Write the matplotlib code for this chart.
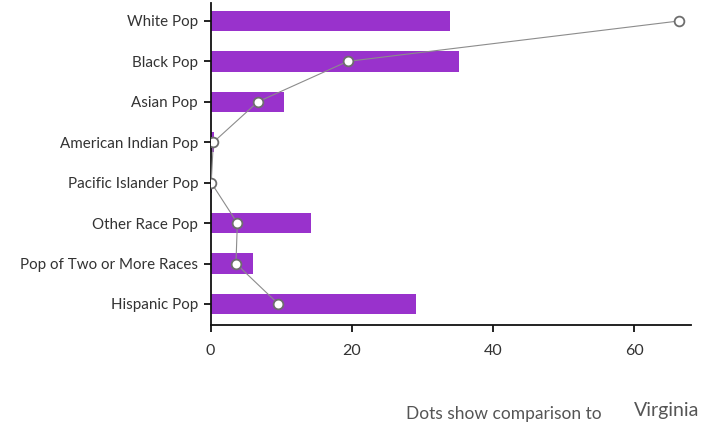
import matplotlib.pyplot as plt

categories = [
    "White Pop",
    "Black Pop",
    "Asian Pop",
    "American Indian Pop",
    "Pacific Islander Pop",
    "Other Race Pop",
    "Pop of Two or More Races",
    "Hispanic Pop",
]
bar_values = [33.9, 35.1, 10.4, 0.5, 0.2, 14.2, 6.0, 29.1]
dot_values = [66.3, 19.4, 6.7, 0.4, 0.1, 3.8, 3.6, 9.6]
x_ticks = [0, 20, 40, 60]
comparison_label = "Virginia"

plt.rcParams["font.family"] = ["Lato", "DejaVu Sans"]

fig = plt.figure(figsize=(7.01, 4.25), dpi=100)
ax = fig.add_axes([0.3003, 0.2353, 0.6854, 0.7577])

pos = list(range(len(categories)))
ax.barh(pos, bar_values, height=0.5, color="#9932CC", zorder=2)
ax.plot(dot_values, pos, color="#8c8c8c", linewidth=0.8, zorder=3,
        marker="o", markersize=7, markerfacecolor="white",
        markeredgecolor="#6e6e6e", markeredgewidth=1.3)

ax.set_ylim(7.52, -0.445)
ax.set_xlim(0, 68)
ax.set_yticks(pos)
ax.set_yticklabels(categories, fontsize=10.9, color="#333333")
ax.set_xticks(x_ticks)
ax.set_xticklabels([str(t) for t in x_ticks], fontsize=11.5, color="#333333")

for side in ("top", "right"):
    ax.spines[side].set_visible(False)
for side in ("left", "bottom"):
    ax.spines[side].set_color("#111111")
    ax.spines[side].set_linewidth(1.3)
ax.tick_params(axis="both", length=5, width=1.3, color="#111111")
ax.tick_params(axis="y", pad=4)
ax.tick_params(axis="x", pad=9)

fig.text(0.579, 0.014, "Dots show comparison to", fontsize=12.5, color="#555555")
fig.text(0.905, 0.021, comparison_label, fontsize=14, color="#555555")

fig.savefig("out.png", dpi=100)
